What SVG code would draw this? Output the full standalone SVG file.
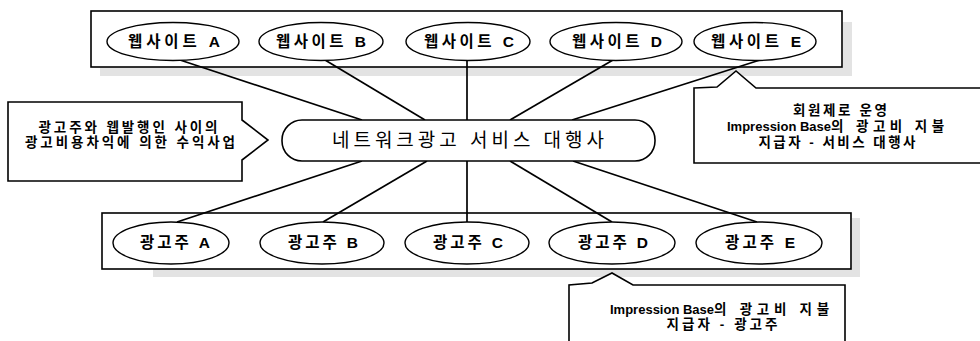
<svg xmlns="http://www.w3.org/2000/svg" width="980" height="341" viewBox="0 0 980 341">
<style>
.box{fill:#fff;stroke:#000;stroke-width:1.6}
.ell{fill:#fff;stroke:#000;stroke-width:1.4}
.shadow{fill:#e3e3e3}
.conn line{stroke:#000;stroke-width:1.7}
text{font-family:"Liberation Sans","Noto Sans CJK KR",sans-serif;font-weight:bold;fill:#000;text-anchor:middle}
.lbl{font-size:15.5px}
.call{font-size:13.5px}
.lat{font-size:13px}
.start{text-anchor:start}
.main{font-size:19px;font-weight:normal}
</style>
<rect width="980" height="341" fill="#fff"/>
<rect class="shadow" x="100" y="67" width="752" height="9"/>
<rect class="shadow" x="843" y="22" width="9" height="54"/>
<rect class="shadow" x="153" y="269" width="707" height="8"/>
<rect class="shadow" x="852" y="218" width="8" height="59"/>

<g id="websites-frame"><rect class="box" x="91" y="11" width="751" height="56"/></g>
<g id="advertisers-frame"><rect class="box" x="102" y="213" width="749" height="56"/></g>

<g class="conn" id="connectors">
<line x1="180" y1="60" x2="362" y2="120"/>
<line x1="325" y1="60" x2="425" y2="120"/>
<line x1="467" y1="60" x2="467" y2="120"/>
<line x1="613" y1="60" x2="510" y2="120"/>
<line x1="760" y1="60" x2="572" y2="120"/>
<line x1="362" y1="161" x2="177" y2="222"/>
<line x1="427" y1="161" x2="323" y2="222"/>
<line x1="467" y1="161" x2="467" y2="222"/>
<line x1="510" y1="161" x2="612" y2="222"/>
<line x1="573" y1="161" x2="757" y2="222"/>
</g>

<g id="web-a"><ellipse class="ell" cx="173" cy="41.5" rx="66" ry="19"/><text class="lbl" x="174" y="47" textLength="92" lengthAdjust="spacing">웹사이트 A</text></g>
<g id="web-b"><ellipse class="ell" cx="321" cy="41.5" rx="62" ry="19"/><text class="lbl" x="321" y="47" textLength="90" lengthAdjust="spacing">웹사이트 B</text></g>
<g id="web-c"><ellipse class="ell" cx="468" cy="41.5" rx="62" ry="19"/><text class="lbl" x="469" y="47" textLength="90" lengthAdjust="spacing">웹사이트 C</text></g>
<g id="web-d"><ellipse class="ell" cx="616" cy="41.5" rx="66" ry="19"/><text class="lbl" x="617" y="47" textLength="90" lengthAdjust="spacing">웹사이트 D</text></g>
<g id="web-e"><ellipse class="ell" cx="755" cy="41.5" rx="61" ry="19"/><text class="lbl" x="756" y="47" textLength="90" lengthAdjust="spacing">웹사이트 E</text></g>

<g id="agency"><rect class="box" x="282" y="120" width="373" height="41" rx="20" ry="20"/><text class="main" x="468" y="147" textLength="272" lengthAdjust="spacing">네트워크광고 서비스 대행사</text></g>

<g id="adv-a"><ellipse class="ell" cx="171" cy="243" rx="58" ry="21"/><text class="lbl" x="175" y="248" textLength="70" lengthAdjust="spacing">광고주 A</text></g>
<g id="adv-b"><ellipse class="ell" cx="322" cy="243" rx="62" ry="21"/><text class="lbl" x="323" y="248" textLength="70" lengthAdjust="spacing">광고주 B</text></g>
<g id="adv-c"><ellipse class="ell" cx="467" cy="243" rx="62" ry="21"/><text class="lbl" x="468" y="248" textLength="70" lengthAdjust="spacing">광고주 C</text></g>
<g id="adv-d"><ellipse class="ell" cx="612" cy="243" rx="63" ry="21"/><text class="lbl" x="613" y="248" textLength="70" lengthAdjust="spacing">광고주 D</text></g>
<g id="adv-e"><ellipse class="ell" cx="759" cy="243" rx="63" ry="21"/><text class="lbl" x="760" y="248" textLength="70" lengthAdjust="spacing">광고주 E</text></g>

<g id="note-left">
<path class="box" d="M8,102 L242,102 L242,120 L268,140 L242,160 L242,181 L8,181 Z"/>
<text class="call" x="128" y="132" textLength="179" lengthAdjust="spacing">광고주와 웹발행인 사이의</text>
<text class="call" x="130" y="147" textLength="210" lengthAdjust="spacing">광고비용차익에 의한 수익사업</text>
</g>

<g id="note-right">
<path class="box" d="M694,88 L717,87 L736,71 L756,88 L990,88 L990,163 L694,163 Z"/>
<text class="call" x="840" y="115" textLength="94" lengthAdjust="spacing">회원제로 운영</text>
<text class="call start" x="727" y="131"><tspan class="lat">Impression Base</tspan><tspan textLength="113" lengthAdjust="spacing">의 광고비 지불</tspan></text>
<text class="call" x="837" y="147" textLength="157" lengthAdjust="spacing">지급자 - 서비스 대행사</text>
</g>

<g id="note-bottom">
<path class="box" d="M569,350 L569,285 L592,283 L612,273 L633,285 L845,285 L845,350"/>
<text class="call start" x="610" y="314"><tspan class="lat">Impression Base</tspan><tspan textLength="115" lengthAdjust="spacing">의 광고비 지불</tspan></text>
<text class="call" x="722" y="329" textLength="111" lengthAdjust="spacing">지급자 - 광고주</text>
</g>
</svg>
